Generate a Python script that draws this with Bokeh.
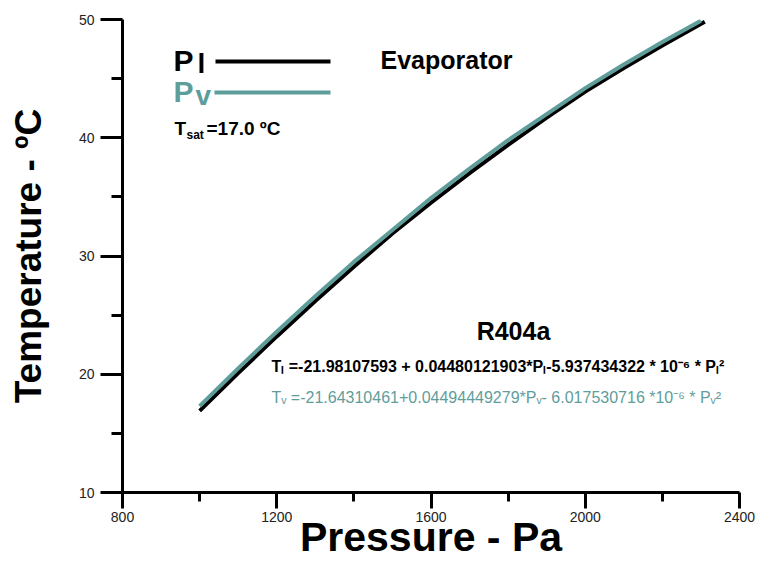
from bokeh.plotting import figure
from bokeh.models import FixedTicker, Label
from bokeh.embed import file_html
from bokeh.resources import INLINE

# ---- data ----
pressure_l = [1000, 1100, 1200, 1300, 1400, 1500, 1600, 1700, 1800, 1900, 2000, 2100, 2200, 2310]
temp_l = [16.9, 20.1, 23.2, 26.2, 29.1, 31.9, 34.5, 37.0, 39.4, 41.7, 43.9, 45.9, 47.8, 49.8]
pressure_v = [1000, 1100, 1200, 1300, 1400, 1500, 1600, 1700, 1800, 1900, 2000, 2100, 2200, 2300]
temp_v = [17.3, 20.5, 23.6, 26.6, 29.5, 32.2, 34.9, 37.4, 39.8, 42.0, 44.2, 46.2, 48.1, 49.9]
x_ticks = [800, 1200, 1600, 2000, 2400]
x_minor = [1000, 1400, 1800, 2200]
y_ticks = [10, 20, 30, 40, 50]
y_minor = [15, 25, 35, 45]
x_title = "Pressure - Pa"
y_title = "Temperature - \u00baC"

BLACK = "#000000"
TEAL = "#5f9d9b"
FONT = "Liberation Sans"

# frame geometry in pixels
FL, FR, FT, FB = 122, 739, 19, 492
W, H = 759, 562
XMIN, XMAX, YMIN, YMAX = 800, 2400, 10, 50


def dx(px):
    return XMIN + (px - FL) * (XMAX - XMIN) / (FR - FL)


def dy(py):
    return YMIN + (FB - py) * (YMAX - YMIN) / (FB - FT)


p = figure(width=W, height=H, x_range=(XMIN, XMAX), y_range=(YMIN, YMAX),
           output_backend="svg", toolbar_location=None,
           min_border_left=FL, min_border_right=W - FR,
           min_border_top=FT, min_border_bottom=H - FB)
p.outline_line_color = None
p.grid.visible = False
p.background_fill_color = "white"
p.border_fill_color = "white"

p.xaxis.ticker = FixedTicker(ticks=x_ticks, minor_ticks=x_minor)
p.yaxis.ticker = FixedTicker(ticks=y_ticks, minor_ticks=y_minor)
for ax in (p.xaxis[0], p.yaxis[0]):
    ax.axis_line_width = 3
    ax.axis_line_color = BLACK
    ax.major_tick_line_width = 3
    ax.minor_tick_line_width = 3
    ax.major_tick_line_color = BLACK
    ax.minor_tick_line_color = BLACK
    ax.major_tick_in = 0
    ax.minor_tick_in = 0
    ax.major_label_text_font = FONT
    ax.major_label_text_font_size = "14px"
    ax.major_label_text_color = "#222222"
    ax.axis_label_text_font = FONT
    ax.axis_label_text_font_style = "bold"
    ax.axis_label_text_color = BLACK
p.xaxis.major_tick_out = 16
p.xaxis.minor_tick_out = 9
p.yaxis.major_tick_out = 22
p.yaxis.minor_tick_out = 11
p.xaxis.major_label_standoff = 3
p.yaxis.major_label_standoff = 6

p.xaxis.axis_label = x_title
p.xaxis.axis_label_text_font_size = "41px"
p.xaxis.axis_label_standoff = -11
p.yaxis.axis_label = y_title
p.yaxis.axis_label_text_font_size = "37px"
p.yaxis.axis_label_standoff = 27

# curves
p.line(pressure_l, temp_l, line_color=BLACK, line_width=4)
p.line(pressure_v, temp_v, line_color=TEAL, line_width=4)


def lab(px, py, text, size, color=BLACK, bold=True, align="left", baseline="middle"):
    p.add_layout(Label(x=dx(px), y=dy(py), text=text, text_font=FONT,
                       text_font_size=f"{size}px", text_color=color,
                       text_font_style="bold" if bold else "normal",
                       text_align=align, text_baseline=baseline))


# legend-like block
lab(173, 60, "P", 30)
lab(197, 63, "l", 28)
p.segment(x0=[dx(215)], y0=[dy(61)], x1=[dx(330)], y1=[dy(61)], line_color=BLACK, line_width=4)
lab(173, 91, "P", 30, color=TEAL)
lab(195, 95, "v", 28, color=TEAL)
p.segment(x0=[dx(214)], y0=[dy(92)], x1=[dx(330)], y1=[dy(92)], line_color=TEAL, line_width=4)

lab(174, 128, "T", 19)
lab(186, 134, "sat", 12)
lab(206, 128, "=17.0 \u00baC", 19)

lab(380, 59, "Evaporator", 25)
lab(513, 330, "R404a", 25, align="center")
lab(271, 366, "T\u2097 =-21.98107593 + 0.04480121903*P\u2097-5.937434322 * 10\u207b\u2076 * P\u2097\u00b2", 16)
lab(271, 397, "T\u1d65 =-21.64310461+0.04494449279*P\u1d65- 6.017530716 *10\u207b\u2076 * P\u1d65\u00b2", 16,
    color=TEAL, bold=False)

open("out.html", "w").write(file_html(p, INLINE))
